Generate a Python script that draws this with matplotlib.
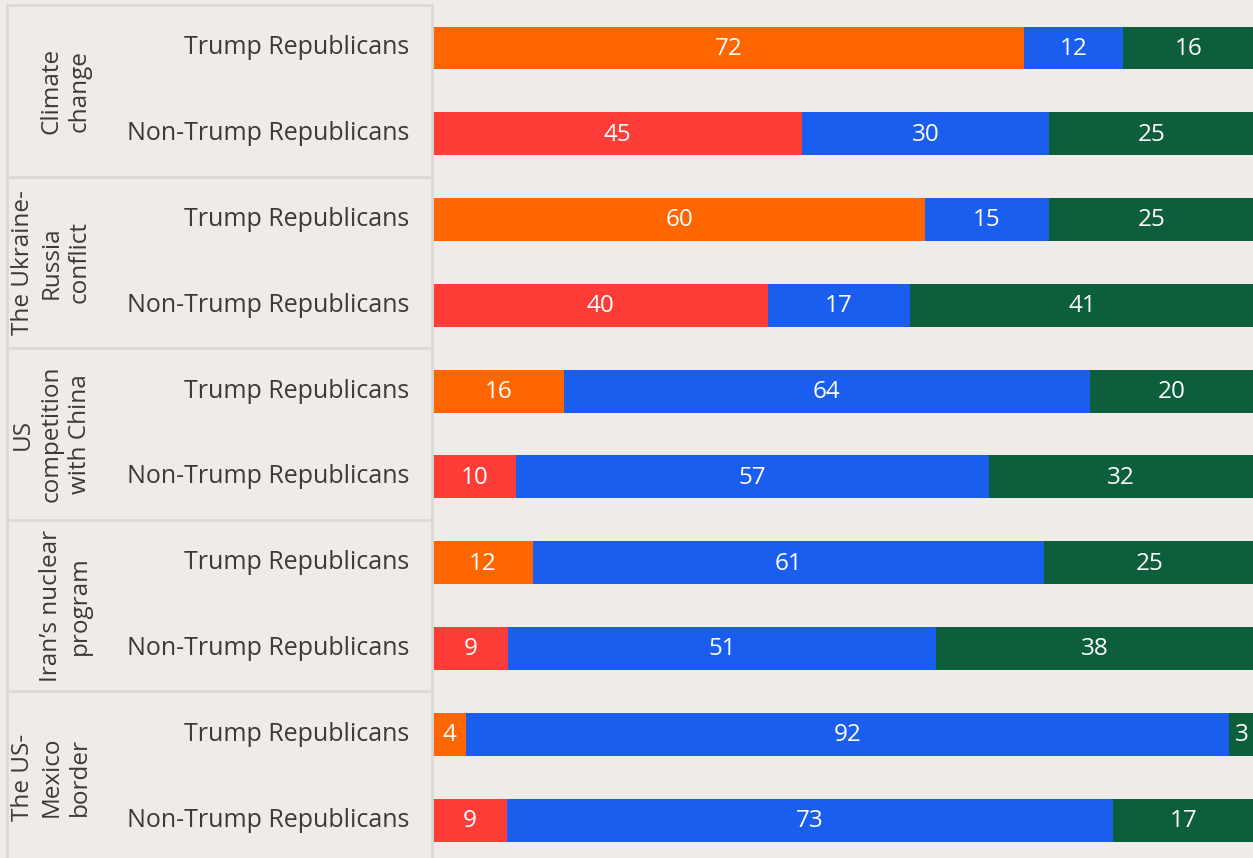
#!/usr/bin/env python3
"""Stacked 100% bars: Trump vs non-Trump Republicans by topic."""

import matplotlib
matplotlib.use("Agg")
import matplotlib.pyplot as plt
import numpy as np

# ─── Data ────────────────────────────────────────────────────────────────────

topics = [
    "Climate\nchange",
    "The Ukraine-\nRussia\nconflict",
    "US\ncompetition\nwith China",
    "Iran\u2019s nuclear\nprogram",
    "The US-\nMexico\nborder",
]
groups = ["Trump Republicans", "Non-Trump Republicans"]

first_vals = [72, 45, 60, 40, 16, 10, 12, 9, 4, 9]
second_vals = [12, 30, 15, 17, 64, 57, 61, 51, 92, 73]
third_vals = [16, 25, 25, 41, 20, 32, 25, 38, 3, 17]

# ─── Style ───────────────────────────────────────────────────────────────────

BG = "#efebe8"
LINE = "#dbd9d7"
TEXT = "#3a3a3a"
ORANGE = "#ff6600"
RED = "#ff3d38"
BLUE = "#1a5ef0"
GREEN = "#0d5e3a"

plt.rcParams["font.family"] = ["Open Sans", "DejaVu Sans"]

W, H = 1253, 858
fig = plt.figure(figsize=(W / 100, H / 100), dpi=100, facecolor=BG)

# axes span the pixel rows 5..863 (last group is cut at the image bottom)
y_top, y_bot = 5.1, 863.0
ax_bottom = (H - y_bot) / H
ax_height = (y_bot - y_top) / H
x_bar0 = 432.7
x_panel_r = 431.5

ax = fig.add_axes([x_bar0 / W, ax_bottom, (W + 1 - x_bar0) / W, ax_height])
ax_l = fig.add_axes([7 / W, ax_bottom, (x_panel_r - 7) / W, ax_height])

n_rows = len(first_vals)
y = np.arange(n_rows)

# ─── Bars (100% stacked) ─────────────────────────────────────────────────────

vals = np.array([first_vals, second_vals, third_vals], dtype=float)
shares = vals / vals.sum(axis=0) * 100
first_colors = [ORANGE if i % 2 == 0 else RED for i in range(n_rows)]
colors = [first_colors, BLUE, GREEN]

left = np.zeros(n_rows)
for k in range(3):
    ax.barh(y, shares[k], left=left, height=0.5, color=colors[k], linewidth=0)
    for i in range(n_rows):
        ax.text(left[i] + shares[k][i] / 2, y[i] + 0.01, f"{int(vals[k][i])}",
                ha="center", va="center", color="white", fontsize=17.5)
    left += shares[k]

ax.set_xlim(0, 100)
ax.set_ylim(n_rows - 0.5, -0.5)
ax.set_facecolor(BG)
ax.axis("off")

# ─── Left label panel ────────────────────────────────────────────────────────

panel_w = x_panel_r - 7
ax_l.set_xlim(0, panel_w)
ax_l.set_ylim(n_rows - 0.5, -0.5)
ax_l.set_facecolor(BG)
ax_l.set_xticks([])
ax_l.set_yticks([])
for s in ax_l.spines.values():
    s.set_color(LINE)
    s.set_linewidth(2)
ax_l.spines["bottom"].set_visible(False)

for g in range(1, len(topics)):
    ax_l.axhline(2 * g - 0.5, color=LINE, linewidth=2)

for g, topic in enumerate(topics):
    ax_l.text(92 - 7, 2 * g + 0.5, topic, rotation=90, ha="right", va="center",
              multialignment="center", color=TEXT, fontsize=17.5,
              linespacing=1.25)

for i in range(n_rows):
    ax_l.text(409 - 7, y[i], groups[i % 2], ha="right", va="center",
              color=TEXT, fontsize=18)

fig.savefig("out.png", dpi=100, facecolor=BG)
plt.close(fig)
print("Saved: out.png")
